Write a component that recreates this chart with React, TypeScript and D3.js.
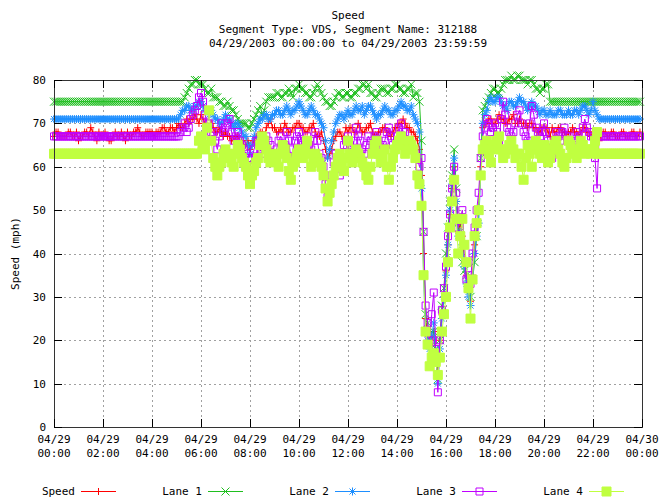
import React from "react";
import * as d3 from "d3";

// 5-minute samples, 04/29/2003 00:00 .. 23:55 (12 per hour)
const speedMph = [
  67, 68, 68, 67, 67, 67, 67, 68, 68, 67, 67, 68, // 00
  66, 67, 67, 68, 68, 67, 69, 68, 67, 66, 68, 67, // 01
  67, 68, 67, 66, 66, 67, 68, 67, 67, 68, 67, 66, // 02
  68, 67, 67, 68, 68, 69, 68, 67, 67, 68, 68, 68, // 03
  68, 67, 68, 68, 68, 69, 69, 68, 68, 69, 69, 68, // 04
  69, 70, 69, 69, 70, 71, 70, 71, 71, 72, 71, 70, // 05
  72, 71, 70, 69, 69, 70, 69, 68, 68, 69, 68, 67, // 06
  68, 67, 67, 66, 66, 67, 67, 66, 66, 65, 65, 66, // 07
  64, 65, 66, 67, 67, 68, 68, 67, 69, 70, 71, 69, // 08
  69, 68, 68, 69, 68, 70, 69, 68, 68, 69, 69, 70, // 09
  70, 69, 69, 68, 68, 69, 69, 70, 68, 67, 67, 68, // 10
  66, 64, 62, 63, 64, 66, 67, 68, 68, 67, 67, 69, // 11
  68, 69, 69, 68, 68, 70, 69, 68, 68, 69, 69, 70, // 12
  68, 67, 67, 68, 68, 69, 69, 68, 68, 67, 68, 69, // 13
  69, 70, 70, 71, 70, 69, 69, 68, 68, 67, 66, 64, // 14
  58, 40, 25, 21, 19, 20, 22, 16, 12, 20, 26, 30, // 15
  36, 42, 49, 55, 60, 52, 45, 47, 44, 38, 35, 31, // 16
  29, 35, 42, 47, 50, 60, 69, 70, 70, 71, 71, 70, // 17
  70, 71, 72, 71, 71, 70, 70, 71, 71, 72, 70, 70, // 18
  71, 70, 70, 70, 69, 70, 70, 69, 69, 68, 68, 69, // 19
  69, 69, 68, 67, 69, 68, 68, 69, 69, 68, 68, 67, // 20
  68, 68, 69, 68, 68, 67, 68, 69, 69, 68, 68, 67, // 21
  68, 67, 67, 66, 67, 68, 68, 67, 67, 68, 68, 67, // 22
  67, 67, 68, 68, 67, 67, 67, 68, 68, 67, 67, 68, // 23
];

const lane1 = [
  75, 75, 75, 75, 75, 75, 75, 75, 75, 75, 75, 75, // 00
  75, 75, 75, 75, 75, 75, 75, 75, 75, 75, 75, 75, // 01
  75, 75, 75, 75, 75, 75, 75, 75, 75, 75, 75, 75, // 02
  75, 75, 75, 75, 75, 75, 75, 75, 75, 75, 75, 75, // 03
  75, 75, 75, 75, 75, 75, 75, 75, 75, 75, 75, 75, // 04
  75, 75, 75, 75, 76, 77, 78, 79, 79, 80, 80, 79, // 05
  79, 79, 78, 77, 77, 78, 76, 76, 76, 75, 75, 74, // 06
  74, 75, 74, 73, 73, 72, 71, 70, 70, 70, 70, 69, // 07
  69, 70, 71, 72, 73, 74, 72, 73, 75, 76, 76, 76, // 08
  76, 77, 77, 76, 76, 77, 77, 78, 77, 76, 78, 78, // 09
  79, 78, 78, 77, 77, 76, 76, 77, 78, 79, 78, 77, // 10
  76, 75, 75, 74, 74, 75, 76, 77, 77, 76, 76, 77, // 11
  77, 76, 76, 77, 77, 78, 78, 79, 79, 78, 79, 77, // 12
  77, 76, 76, 77, 78, 78, 78, 77, 77, 78, 78, 79, // 13
  79, 78, 78, 77, 77, 78, 78, 79, 76, 77, 77, 75, // 14
  66, 45, 26, 24, 20, 22, 22, 18, 11, 20, 28, 32, // 15
  40, 46, 52, 58, 64, 55, 47, 44, 38, 36, 35, 33, // 16
  30, 34, 38, 44, 50, 62, 73, 74, 75, 76, 77, 78, // 17
  78, 77, 77, 78, 79, 80, 80, 80, 81, 80, 80, 81, // 18
  81, 80, 80, 80, 79, 80, 80, 79, 78, 78, 77, 78, // 19
  78, 79, 79, 75, 75, 75, 75, 75, 75, 75, 75, 75, // 20
  75, 75, 75, 75, 75, 75, 75, 75, 75, 75, 75, 75, // 21
  75, 75, 75, 75, 75, 75, 75, 75, 75, 75, 75, 75, // 22
  75, 75, 75, 75, 75, 75, 75, 75, 75, 75, 75, 75, // 23
];

const lane2 = [
  71, 71, 71, 71, 71, 71, 71, 71, 71, 71, 71, 71, // 00
  71, 71, 71, 71, 71, 71, 71, 71, 71, 71, 71, 71, // 01
  71, 71, 71, 71, 71, 71, 71, 71, 71, 71, 71, 71, // 02
  71, 71, 71, 71, 71, 71, 71, 71, 71, 71, 71, 71, // 03
  71, 71, 71, 71, 71, 71, 71, 71, 71, 71, 71, 71, // 04
  71, 71, 72, 73, 73, 74, 74, 73, 73, 74, 74, 75, // 05
  75, 74, 73, 73, 72, 73, 72, 71, 71, 70, 70, 71, // 06
  72, 71, 71, 70, 69, 70, 70, 69, 68, 67, 67, 65, // 07
  63, 65, 67, 69, 70, 71, 71, 72, 72, 71, 71, 72, // 08
  72, 73, 73, 72, 72, 73, 74, 73, 72, 73, 73, 74, // 09
  75, 74, 73, 72, 72, 73, 74, 73, 72, 72, 71, 70, // 10
  69, 66, 62, 64, 66, 68, 70, 71, 72, 72, 71, 72, // 11
  73, 72, 72, 73, 74, 73, 73, 74, 72, 73, 74, 74, // 12
  73, 72, 71, 72, 72, 73, 74, 73, 73, 72, 72, 73, // 13
  73, 74, 75, 74, 74, 73, 73, 74, 72, 71, 70, 68, // 14
  55, 35, 22, 20, 18, 21, 24, 16, 10, 18, 25, 30, // 15
  35, 42, 50, 56, 62, 52, 44, 45, 42, 37, 33, 30, // 16
  28, 34, 40, 44, 47, 58, 70, 72, 73, 75, 76, 75, // 17
  75, 76, 76, 75, 74, 74, 73, 75, 75, 74, 74, 75, // 18
  76, 75, 75, 74, 73, 74, 75, 74, 74, 73, 72, 73, // 19
  73, 72, 72, 73, 72, 72, 72, 73, 73, 72, 72, 72, // 20
  73, 72, 72, 73, 73, 72, 73, 74, 74, 73, 72, 73, // 21
  75, 73, 72, 71, 71, 71, 71, 71, 71, 71, 71, 71, // 22
  71, 71, 71, 71, 71, 71, 71, 71, 71, 71, 71, 71, // 23
];

const lane3 = [
  67, 67, 67, 67, 67, 67, 67, 67, 67, 67, 67, 67, // 00
  67, 67, 67, 67, 67, 67, 67, 67, 67, 67, 67, 67, // 01
  67, 67, 67, 67, 67, 67, 67, 67, 67, 67, 67, 67, // 02
  67, 67, 67, 67, 67, 67, 67, 67, 67, 67, 67, 67, // 03
  67, 67, 67, 67, 67, 67, 67, 67, 67, 67, 67, 67, // 04
  67, 67, 68, 69, 70, 68, 69, 71, 72, 73, 74, 76, // 05
  77, 75, 72, 70, 70, 68, 68, 66, 64, 67, 70, 68, // 06
  69, 70, 71, 68, 66, 67, 68, 66, 65, 64, 63, 62, // 07
  60, 62, 64, 66, 66, 64, 63, 65, 67, 66, 65, 63, // 08
  61, 64, 66, 67, 64, 65, 68, 66, 62, 64, 66, 67, // 09
  68, 66, 65, 66, 67, 65, 64, 66, 68, 66, 63, 62, // 10
  60, 56, 53, 55, 58, 61, 63, 60, 58, 62, 65, 66, // 11
  67, 65, 64, 66, 69, 67, 66, 64, 63, 65, 67, 66, // 12
  65, 67, 68, 66, 64, 65, 66, 68, 69, 67, 65, 64, // 13
  67, 69, 70, 68, 68, 66, 66, 65, 64, 63, 62, 60, // 14
  62, 45, 28, 24, 20, 26, 31, 18, 8, 20, 27, 32, // 15
  37, 44, 49, 55, 60, 54, 46, 48, 50, 42, 34, 35, // 16
  33, 40, 46, 50, 54, 62, 67, 69, 71, 70, 68, 69, // 17
  70, 68, 66, 71, 75, 72, 69, 68, 67, 68, 70, 72, // 18
  73, 70, 68, 67, 66, 70, 74, 72, 69, 68, 67, 68, // 19
  70, 68, 66, 64, 62, 65, 68, 67, 66, 68, 69, 67, // 20
  67, 66, 65, 66, 68, 67, 66, 69, 71, 69, 68, 67, // 21
  67, 62, 55, 67, 67, 67, 67, 67, 67, 67, 67, 67, // 22
  67, 67, 67, 67, 67, 67, 67, 67, 67, 67, 67, 67, // 23
];

const lane4 = [
  63, 63, 63, 63, 63, 63, 63, 63, 63, 63, 63, 63, // 00
  63, 63, 63, 63, 63, 63, 63, 63, 63, 63, 63, 63, // 01
  63, 63, 63, 63, 63, 63, 63, 63, 63, 63, 63, 63, // 02
  63, 63, 63, 63, 63, 63, 63, 63, 63, 63, 63, 63, // 03
  63, 63, 63, 63, 63, 63, 63, 63, 63, 63, 63, 63, // 04
  63, 63, 63, 63, 63, 63, 63, 63, 63, 63, 63, 66, // 05
  67, 65, 64, 69, 73, 66, 62, 60, 58, 60, 61, 63, // 06
  64, 63, 62, 61, 60, 63, 65, 64, 62, 61, 60, 58, // 07
  56, 58, 59, 61, 62, 65, 67, 66, 64, 62, 61, 62, // 08
  63, 62, 60, 63, 65, 64, 62, 59, 57, 60, 61, 63, // 09
  64, 63, 62, 64, 66, 63, 60, 61, 63, 62, 61, 60, // 10
  58, 55, 52, 54, 56, 58, 60, 62, 63, 61, 59, 62, // 11
  66, 63, 61, 62, 64, 63, 62, 61, 60, 58, 57, 60, // 12
  63, 65, 66, 63, 61, 62, 64, 60, 57, 60, 62, 64, // 13
  65, 66, 67, 65, 63, 64, 66, 65, 64, 62, 58, 56, // 14
  51, 35, 22, 19, 14, 16, 17, 15, 12, 16, 22, 26, // 15
  30, 38, 46, 52, 57, 48, 40, 44, 48, 42, 38, 32, // 16
  25, 34, 44, 47, 50, 58, 64, 65, 66, 63, 61, 64, // 17
  65, 66, 67, 64, 62, 63, 64, 65, 66, 64, 62, 63, // 18
  63, 60, 57, 62, 65, 63, 60, 64, 66, 64, 63, 62, // 19
  65, 63, 61, 62, 64, 65, 66, 64, 63, 61, 60, 62, // 20
  66, 65, 64, 63, 62, 64, 66, 65, 63, 64, 64, 63, // 21
  64, 66, 68, 63, 63, 63, 63, 63, 63, 63, 63, 63, // 22
  63, 63, 63, 63, 63, 63, 63, 63, 63, 63, 63, 63, // 23
];

const seriesNames = ["Speed", "Lane 1", "Lane 2", "Lane 3", "Lane 4"];
const seriesColors = ["#ff0000", "#1fbf1f", "#1e8fff", "#c000ff", "#c0ff40"];
const seriesMarkers = ["plus", "cross", "star", "box", "fbox"];
const seriesValues = [speedMph, lane1, lane2, lane3, lane4];

const yTicks = [0, 10, 20, 30, 40, 50, 60, 70, 80];
const titleLines = [
  "Speed",
  "Segment Type: VDS, Segment Name: 312188",
  "04/29/2003 00:00:00 to 04/29/2003 23:59:59",
];

const W = 659;
const H = 504;
const L = 54;
const R = 642;
const T = 80;
const B = 427;
const FONT = "'DejaVu Sans Mono', monospace";
const STEP_MIN = 5;

const start = new Date(2003, 3, 29, 0, 0);
const end = new Date(2003, 3, 30, 0, 0);
const x = d3.scaleTime().domain([start, end]).range([L, R]);
const y = d3.scaleLinear().domain([0, 80]).range([B, T]);
const xTicks = x.ticks(d3.timeHour.every(2));
const fmtDay = d3.timeFormat("%m/%d");
const fmtHour = d3.timeFormat("%H:%M");

function markerPath(kind: string, cx: number, cy: number): string {
  const s = 4;
  const p = 3.5;
  switch (kind) {
    case "plus":
      return `M${cx - p},${cy}H${cx + p}M${cx},${cy - p}V${cy + p}`;
    case "cross":
      return `M${cx - s},${cy - s}L${cx + s},${cy + s}M${cx - s},${cy + s}L${cx + s},${cy - s}`;
    case "star":
      return `M${cx - s},${cy}H${cx + s}M${cx},${cy - s}V${cy + s}M${cx - 3},${cy - 3}L${cx + 3},${cy + 3}M${cx - 3},${cy + 3}L${cx + 3},${cy - 3}`;
    case "box":
      return `M${cx - 3.5},${cy - 3.5}h7v7h-7Z`;
    default:
      return `M${cx - 4.5},${cy - 4.5}h9v9h-9Z`;
  }
}

const tx = (i: number) => x(d3.timeMinute.offset(start, i * STEP_MIN));

export default function App() {
  const line = d3
    .line<number>()
    .x((_, i) => tx(i))
    .y((d) => y(d));

  return (
    <svg
      width={W}
      height={H}
      style={{ position: "absolute", left: 0, top: 0, background: "#fff" }}
      fontFamily={FONT}
      fontSize={11}
    >
      <rect x={0} y={0} width={W} height={H} fill="#fff" />
      {titleLines.map((t, i) => (
        <text key={i} x={(L + R) / 2} y={19 + i * 14} textAnchor="middle" fill="#000">
          {t}
        </text>
      ))}
      {/* grid */}
      <g stroke="#a0a0a0" strokeWidth={1} strokeDasharray="2,3" shapeRendering="crispEdges">
        {yTicks.slice(1, -1).map((v) => (
          <line key={"gy" + v} x1={L} x2={R} y1={Math.round(y(v)) + 0.5} y2={Math.round(y(v)) + 0.5} />
        ))}
        {xTicks.slice(1, -1).map((d, i) => (
          <line key={"gx" + i} x1={Math.round(x(d)) + 0.5} x2={Math.round(x(d)) + 0.5} y1={T} y2={B} />
        ))}
      </g>
      {/* series */}
      {seriesValues.map((vals, si) => (
        <g key={seriesNames[si]}>
          <path d={line(vals) || ""} fill="none" stroke={seriesColors[si]} strokeWidth={1} />
          <path
            d={vals.map((v, i) => markerPath(seriesMarkers[si], tx(i), y(v))).join("")}
            fill={seriesMarkers[si] === "fbox" ? seriesColors[si] : "none"}
            stroke={seriesColors[si]}
            strokeWidth={1}
          />
        </g>
      ))}
      {/* border and ticks */}
      <g stroke="#000" strokeWidth={1} shapeRendering="crispEdges" fill="none">
        <rect x={L + 0.5} y={T + 0.5} width={R - L} height={B - T} stroke="#333" />
        {yTicks.map((v) => (
          <g key={"ty" + v}>
            <line x1={L} x2={L + 8} y1={Math.round(y(v)) + 0.5} y2={Math.round(y(v)) + 0.5} />
            <line x1={R - 8} x2={R} y1={Math.round(y(v)) + 0.5} y2={Math.round(y(v)) + 0.5} />
          </g>
        ))}
        {xTicks.map((d, i) => (
          <g key={"tx" + i}>
            <line x1={Math.round(x(d)) + 0.5} x2={Math.round(x(d)) + 0.5} y1={B} y2={B - 8} />
            <line x1={Math.round(x(d)) + 0.5} x2={Math.round(x(d)) + 0.5} y1={T} y2={T + 8} />
          </g>
        ))}
      </g>
      {/* tick labels */}
      {yTicks.map((v) => (
        <text key={"ly" + v} x={L - 8} y={y(v) + 4} textAnchor="end" fill="#000">
          {v}
        </text>
      ))}
      {xTicks.map((d, i) => (
        <g key={"lx" + i}>
          <text x={x(d)} y={443} textAnchor="middle" fill="#000">
            {fmtDay(d)}
          </text>
          <text x={x(d)} y={457} textAnchor="middle" fill="#000">
            {fmtHour(d)}
          </text>
        </g>
      ))}
      <text
        x={0}
        y={0}
        transform={`translate(19,${(T + B) / 2}) rotate(-90)`}
        textAnchor="middle"
        fill="#000"
      >
        Speed (mph)
      </text>
      {/* legend */}
      {seriesNames.map((n, i) => {
        const lx = 81 + i * 127;
        const ly = 491;
        return (
          <g key={"lg" + n}>
            <text x={lx - 6} y={ly + 4} textAnchor="end" fill="#000">
              {n}
            </text>
            <line x1={lx} x2={lx + 35} y1={ly + 0.5} y2={ly + 0.5} stroke={seriesColors[i]} strokeWidth={1} />
            <path
              d={markerPath(seriesMarkers[i], lx + 17.5, ly + 0.5)}
              fill={seriesMarkers[i] === "fbox" ? seriesColors[i] : "none"}
              stroke={seriesColors[i]}
              strokeWidth={1}
            />
          </g>
        );
      })}
    </svg>
  );
}
